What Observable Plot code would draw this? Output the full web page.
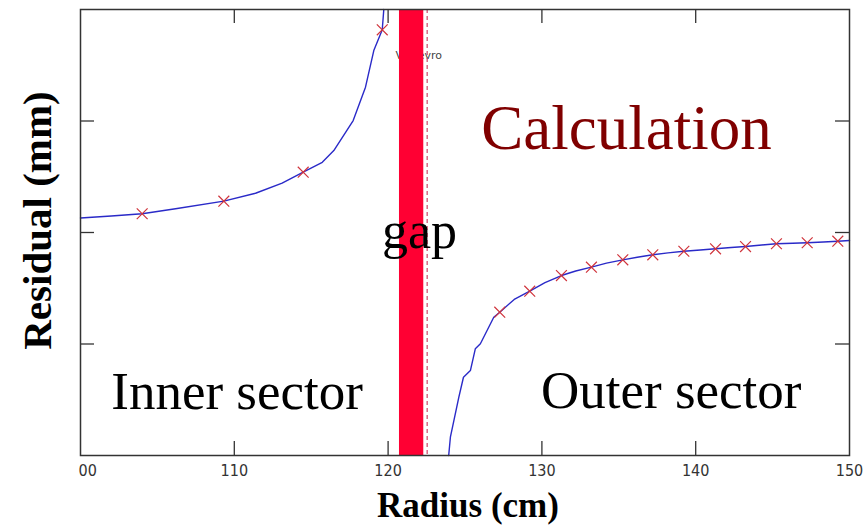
<!DOCTYPE html>
<html>
<head>
<meta charset="utf-8">
<script src="https://cdn.jsdelivr.net/npm/d3@7"></script>
<script src="https://cdn.jsdelivr.net/npm/@observablehq/plot@0.6"></script>
<style>
  html, body { margin: 0; padding: 0; background: #fff; }
  #chart svg { display: block; }
</style>
</head>
<body>
<div id="chart"></div>
<script>
// ---- data ----
const innerRadius   = [100, 102.0, 104.01, 106.18, 109.32, 111.38, 113.11, 114.48, 115.72, 116.47, 117.73, 118.53, 119.07, 119.62, 119.72];
const innerResidual = [0.130, 0.148, 0.168, 0.213, 0.281, 0.352, 0.442, 0.541, 0.630, 0.735, 1.004, 1.303, 1.632, 1.818, 2.0];

const outerRadius   = [123.94, 124.05, 124.6, 124.9, 125.35, 125.67, 126.0, 126.87, 127.26, 128.2, 129.21, 130.2, 131.27, 132.2, 133.22, 134.2, 135.26, 136.2, 137.21, 138.2, 139.23, 140.3, 141.29, 142.3, 143.24, 144.3, 145.25, 146.3, 147.25, 148.3, 149.24, 150];
const outerResidual = [-2.0, -1.836, -1.477, -1.298, -1.238, -1.043, -0.998, -0.760, -0.715, -0.600, -0.526, -0.450, -0.386, -0.345, -0.311, -0.275, -0.245, -0.222, -0.200, -0.183, -0.168, -0.157, -0.146, -0.135, -0.126, -0.112, -0.101, -0.097, -0.092, -0.085, -0.078, -0.072];

const markerRadius   = [104.01, 109.32, 114.48, 119.62, 127.26, 129.21, 131.27, 133.22, 135.26, 137.21, 139.23, 141.29, 143.24, 145.25, 147.25, 149.24];
const markerResidual = [0.168, 0.281, 0.541, 1.818, -0.715, -0.526, -0.386, -0.311, -0.245, -0.200, -0.168, -0.146, -0.126, -0.101, -0.092, -0.078];

const gapStart = 120.74, gapEnd = 122.32, dashedEdge = 122.54;

const xTickValues = [100, 110, 120, 130, 140, 150];
const xTickLabels = ["00", "110", "120", "130", "140", "150"];
const yTickValues = [-1, 0, 1];

const xTitle = "Radius (cm)";
const yTitle = "Residual (mm)";

// annotations (data coordinates)
const bigLabels = ["Calculation", "gap", "Inner sector", "Outer sector"];
const bigLabelX = [135.5, 122.04, 102.0, 129.94];
const bigLabelY = [0.753, -0.143, -1.587, -1.578];
const smallNote = "Vertevro";
const smallNoteX = 120.48, smallNoteY = 1.56;

// ---- build tables ----
const innerLine = innerRadius.map((r, i) => ({r, v: innerResidual[i]}));
const outerLine = outerRadius.map((r, i) => ({r, v: outerResidual[i]}));
const markers = markerRadius.map((r, i) => ({r, v: markerResidual[i]}));
const ticksX = xTickValues.map((v, i) => ({v, label: xTickLabels[i], i}));
const labels = bigLabels.map((t, i) => ({t, x: bigLabelX[i], y: bigLabelY[i]}));

const serif = "'Liberation Serif', 'Times New Roman', serif";
const tickFont = "'Liberation Sans Narrow', 'DejaVu Sans Condensed', 'Liberation Sans', sans-serif";

const chart = Plot.plot({
  width: 867,
  height: 525,
  marginLeft: 80,
  marginRight: 18,
  marginTop: 9,
  marginBottom: 70,
  x: {domain: [100, 150], axis: null},
  y: {domain: [-2, 2], axis: null},
  style: {background: "white", overflow: "visible"},
  marks: [
    // faint note partly hidden by the gap bar
    Plot.text([smallNote], {x: () => smallNoteX, y: () => smallNoteY, text: d => d,
      textAnchor: "start", lineAnchor: "bottom", fontSize: 11, fill: "#444",
      fontFamily: "'DejaVu Sans', sans-serif"}),
    // curves
    Plot.line(innerLine, {x: "r", y: "v", stroke: "#2a2ac8", strokeWidth: 1.4}),
    Plot.line(outerLine, {x: "r", y: "v", stroke: "#2a2ac8", strokeWidth: 1.4}),
    Plot.dot(markers, {x: "r", y: "v", symbol: "times", r: 5, stroke: "#d0343c", strokeWidth: 1.2}),
    // gap bar and dashed edge
    Plot.rect([{x1: gapStart, x2: gapEnd}], {x1: "x1", x2: "x2", y1: -2, y2: 2, fill: "#ff0033"}),
    Plot.ruleX([dashedEdge], {stroke: "#cc4466", strokeWidth: 1.2, strokeDasharray: "4,3"}),
    // frame and inward ticks
    Plot.frame({stroke: "#333", strokeWidth: 1.5}),
    Plot.tickX(xTickValues.slice(1, -1), {x: d => d, insetTop: 432, stroke: "#333", strokeWidth: 1.3}),
    Plot.tickX(xTickValues.slice(1, -1), {x: d => d, insetBottom: 432, stroke: "#333", strokeWidth: 1.3}),
    Plot.tickY(yTickValues, {y: d => d, insetRight: 755, stroke: "#333", strokeWidth: 1.3}),
    Plot.tickY(yTickValues, {y: d => d, insetLeft: 755, stroke: "#333", strokeWidth: 1.3}),
    // tick labels
    Plot.text(ticksX.filter(d => d.i > 0), {x: "v", text: "label", frameAnchor: "bottom",
      lineAnchor: "top", dy: 9, fontSize: 16, fill: "#333", fontFamily: tickFont}),
    Plot.text(ticksX.filter(d => d.i === 0), {x: "v", text: "label", frameAnchor: "bottom",
      lineAnchor: "top", dy: 9, dx: -2, textAnchor: "start", fontSize: 16, fill: "#333", fontFamily: tickFont}),
    // annotations
    Plot.text(labels.filter(d => d.t === "Calculation"), {x: "x", y: "y", text: "t",
      lineAnchor: "bottom", fontSize: 63, fill: "#800000", fontFamily: serif}),
    Plot.text(labels.filter(d => d.t === "gap"), {x: "x", y: "y", text: "t",
      lineAnchor: "bottom", fontSize: 52, fill: "#000", fontFamily: serif}),
    Plot.text(labels.filter(d => d.t.endsWith("sector")), {x: "x", y: "y", text: "t",
      lineAnchor: "bottom", textAnchor: "start", fontSize: 53, fill: "#000", fontFamily: serif}),
    // axis titles
    Plot.text([xTitle], {frameAnchor: "bottom", text: d => d, lineAnchor: "bottom", dy: 61, dx: 3,
      fontSize: 35, fontWeight: "bold", fill: "#000", fontFamily: serif}),
    Plot.text([yTitle], {frameAnchor: "left", text: d => d, lineAnchor: "bottom", textAnchor: "middle",
      rotate: -90, dx: -30, dy: -12, fontSize: 41, fontWeight: "bold", fill: "#000", fontFamily: serif})
  ]
});

document.getElementById("chart").appendChild(chart);
</script>
</body>
</html>
